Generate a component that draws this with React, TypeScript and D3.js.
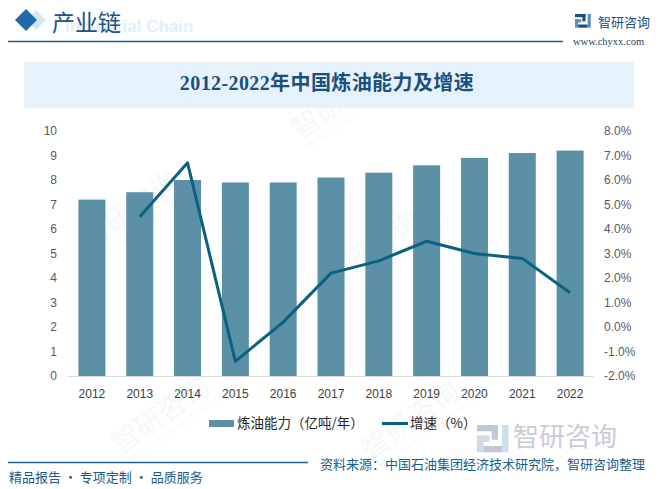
import React from "react";
import * as d3 from "d3";

const years = ["2012", "2013", "2014", "2015", "2016", "2017", "2018", "2019", "2020", "2021", "2022"];
const capacity = [7.2, 7.5, 8.0, 7.9, 7.9, 8.1, 8.3, 8.6, 8.9, 9.1, 9.2];
const growth = [null, 4.5, 6.7, -1.4, 0.2, 2.2, 2.7, 3.5, 3.0, 2.8, 1.4];
const leftTicks = [0, 1, 2, 3, 4, 5, 6, 7, 8, 9, 10];
const rightTicks = [-2, -1, 0, 1, 2, 3, 4, 5, 6, 7, 8];

const W = 660;
const H = 489;
const cjk = "'Noto Sans CJK SC', 'Liberation Sans', sans-serif";
const num = "'Liberation Sans', 'Noto Sans CJK SC', sans-serif";

const Logo = ({ x, y, s, dark, light }: { x: number; y: number; s: number; dark: string; light: string }) => (
  <g transform={`translate(${x},${y}) scale(${s})`}>
    <rect x={0} y={0} width={10} height={3} fill={dark} />
    <rect x={7} y={0} width={3} height={7} fill={dark} />
    <rect x={0} y={5} width={6} height={3} fill={light} />
    <rect x={0} y={5} width={3} height={8} fill={light} />
    <rect x={3} y={10} width={9} height={3} fill={dark} />
    <rect x={12} y={0} width={3} height={13} fill={light} />
  </g>
);

export default function App() {
  const x = d3.scaleBand<string>().domain(years).range([68, 594]).paddingInner(0.435).paddingOuter(0.2175);
  const yL = d3.scaleLinear().domain([0, 10]).range([376, 131]);
  const yR = d3.scaleLinear().domain([-2, 8]).range([376, 131]);
  const cx = (y: string) => (x(y) ?? 0) + x.bandwidth() / 2;

  const line = d3
    .line<number | null>()
    .defined((d) => d !== null)
    .x((_, i) => cx(years[i]))
    .y((d) => yR(d as number));

  // faint background stamps
  const marks = [
    { x: 90, y: 250 }, { x: 330, y: 290 }, { x: 300, y: 140 },
    { x: 120, y: 455 }, { x: 370, y: 460 },
  ];

  return (
    <svg width={W} height={H} style={{ position: "absolute", left: 0, top: 0, background: "#fff" }}>
      {marks.map((m, i) => (
        <g key={i} transform={`translate(${m.x},${m.y}) rotate(-35)`} opacity={0.35}>
          <text x={0} y={0} fontSize={28} fontFamily={cjk} fill="#e6ebf0">智研咨询</text>
          <text x={2} y={13} fontSize={8} fontFamily={num} fill="#e9edf1">INTELLIGENCE RESEARCH GROUP</text>
        </g>
      ))}

      {/* header */}
      <path d="M36,10 L46,20 L36,30 L26,20 Z" fill="#d6e6f2" />
      <path d="M26,9 L37,20 L26,31 L15,20 Z" fill="#1f6aa8" />
      <text x={65} y={32} fontSize={17} fontWeight="bold" fontFamily={num} fill="#e3eef8">Industrial Chain</text>
      <text x={52} y={31} fontSize={23} fontFamily={cjk} fill="#1b5485">产业链</text>
      <line x1={8} x2={563} y1={41.5} y2={41.5} stroke="#1d5f8c" strokeWidth={1.5} />
      <Logo x={575} y={14} s={1.05} dark="#1c4f80" light="#5a8ec0" />
      <text x={598} y={27} fontSize={13} fontFamily={cjk} fill="#1c4f80">智研咨询</text>
      <text x={573} y={45} fontSize={10.5} fontFamily="'Liberation Serif', serif" fill="#1c3f60">www.chyxx.com</text>

      {/* title */}
      <rect x={24} y={62} width={610} height={46} fill="#e6f2fb" />
      <text x={327} y={90} textAnchor="middle" fontSize={20} fontWeight="bold" fontFamily={`'Liberation Serif', ${cjk}`} fill="#1b4f7c" letterSpacing={0.4}>
        2012-2022年中国炼油能力及增速
      </text>

      {/* bars */}
      {capacity.map((v, i) => (
        <rect key={years[i]} x={x(years[i])} y={yL(v)} width={x.bandwidth()} height={yL(0) - yL(v)} fill="#5c90a6" />
      ))}
      <line x1={68} x2={594} y1={376.5} y2={376.5} stroke="#d9d9d9" strokeWidth={1} />

      {/* growth line */}
      <path d={line(growth) ?? ""} fill="none" stroke="#0c6080" strokeWidth={3} strokeLinejoin="round" />

      {/* left axis */}
      {leftTicks.map((t) => (
        <text key={t} x={57} y={yL(t)} dy="0.35em" textAnchor="end" fontSize={12} fontFamily={num} fill="#595959">{t}</text>
      ))}
      {/* right axis */}
      {rightTicks.map((t) => (
        <text key={t} x={604} y={yR(t)} dy="0.35em" fontSize={12} fontFamily={num} fill="#595959">{t.toFixed(1) + "%"}</text>
      ))}
      {/* x axis */}
      {years.map((y) => (
        <text key={y} x={cx(y)} y={398} textAnchor="middle" fontSize={12} fontFamily={num} fill="#404040">{y}</text>
      ))}

      {/* legend */}
      <rect x={209} y={420} width={25} height={7} fill="#5c90a6" />
      <text x={237} y={428} fontSize={13.5} fontFamily={cjk} fill="#262626">炼油能力（亿吨/年）</text>
      <line x1={382} x2={408} y1={423.5} y2={423.5} stroke="#0c6080" strokeWidth={3} />
      <text x={410} y={428} fontSize={13.5} fontFamily={cjk} fill="#262626">增速（%）</text>

      {/* bottom watermark logo */}
      <g opacity={0.9}>
        <Logo x={477} y={425} s={2.1} dark="#b9c3d0" light="#c9d8e8" />
        <text x={513} y={446} fontSize={26} fontFamily={cjk} fill="#c3c8cf">智研咨询</text>
      </g>

      {/* footer */}
      <line x1={8} x2={308} y1={462.5} y2={462.5} stroke="#1f5f90" strokeWidth={1.5} />
      <text x={320} y={469} fontSize={13} fontFamily={cjk} fill="#1a5f8c">资料来源：中国石油集团经济技术研究院，智研咨询整理</text>
      <text x={9} y={482} fontSize={13} fontFamily={cjk} fill="#1a5a8a">精品报告 · 专项定制 · 品质服务</text>
    </svg>
  );
}
